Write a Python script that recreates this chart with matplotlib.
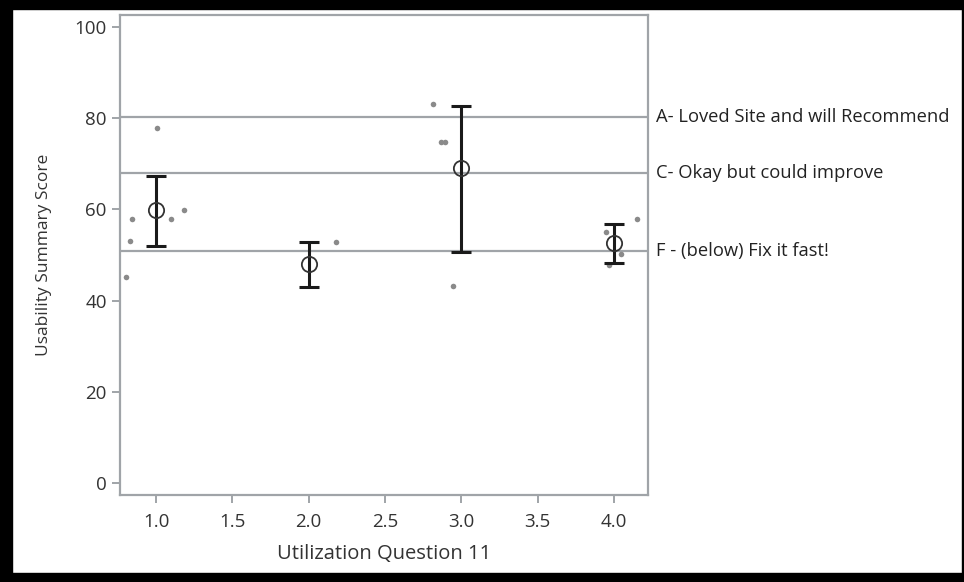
import matplotlib.pyplot as plt
from matplotlib.patches import Rectangle

plt.rcParams['font.family'] = ['Open Sans', 'DejaVu Sans']

# group summaries: mean with lower / upper interval ends
groups = [1.0, 2.0, 3.0, 4.0]
means = [59.9, 48.0, 69.0, 52.6]
lower = [52.0, 43.0, 50.7, 48.3]
upper = [67.3, 52.9, 82.7, 56.9]

# individual responses (jittered question value, score)
resp_x = [1.005, 0.84, 0.83, 0.805, 1.10, 1.18, 2.18,
          2.816, 2.87, 2.89, 2.947, 4.15, 3.945, 4.045, 3.97]
resp_y = [77.9, 57.8, 53.0, 45.2, 57.8, 59.9, 52.8,
          83.2, 74.8, 74.8, 43.2, 57.8, 55.0, 50.2, 47.8]

# SUS grade reference lines
ref_vals = [80.3, 68.0, 50.9]
ref_labels = ['A- Loved Site and will Recommend',
              'C- Okay but could improve',
              'F - (below) Fix it fast!']

xticks = [1.0, 1.5, 2.0, 2.5, 3.0, 3.5, 4.0]
yticks = [0, 20, 40, 60, 80, 100]

fig = plt.figure(figsize=(9.64, 5.82), dpi=100)
ax = fig.add_axes([0.1245, 0.1495, 0.5477, 0.8245])

for v, lab in zip(ref_vals, ref_labels):
    ax.axhline(v, color='#a0a4a8', lw=1.6, zorder=1)
    ax.annotate(lab, xy=(1.0, v), xycoords=('axes fraction', 'data'),
                xytext=(6, 0), textcoords='offset points',
                va='center', ha='left', fontsize=13.2, color='#222222')

ax.plot(resp_x, resp_y, 'o', color='#8a8a8a', ms=4, mec='none', zorder=2)

yerr = [[m - lo for m, lo in zip(means, lower)],
        [hi - m for m, hi in zip(means, upper)]]
ax.errorbar(groups, means, yerr=yerr, fmt='none', ecolor='#1a1a1a',
            elinewidth=2.2, capsize=7, capthick=2.2, zorder=3)
ax.plot(groups, means, 'o', mfc='none', mec='#333333', ms=11, mew=1.3, zorder=4)

ax.set_xlim(0.764, 4.223)
ax.set_ylim(-2.6, 102.6)
ax.set_xticks(xticks)
ax.set_xticklabels(['%.1f' % t for t in xticks])
ax.set_yticks(yticks)

for s in ax.spines.values():
    s.set_color('#a0a4a8')
    s.set_linewidth(1.6)
ax.tick_params(colors='#a0a4a8', labelcolor='#333333', labelsize=13.5,
               length=6, width=1.4)
ax.tick_params(axis='x', pad=7)

ax.set_xlabel('Utilization Question 11', fontsize=14.5, color='#333333', labelpad=9)
ax.set_ylabel('Usability Summary Score', fontsize=12.5, color='#333333', labelpad=16)

# black frame around the figure
W, H = 964, 582
for (x0, y0, w, h) in [(0, 0, 12, H), (W - 2, 0, 2, H), (0, 0, W, 9), (0, H - 9, W, 9)]:
    fig.patches.append(Rectangle((x0 / W, y0 / H), w / W, h / H, transform=fig.transFigure,
                                 color='black', zorder=10))

fig.savefig('out.png', dpi=100)
